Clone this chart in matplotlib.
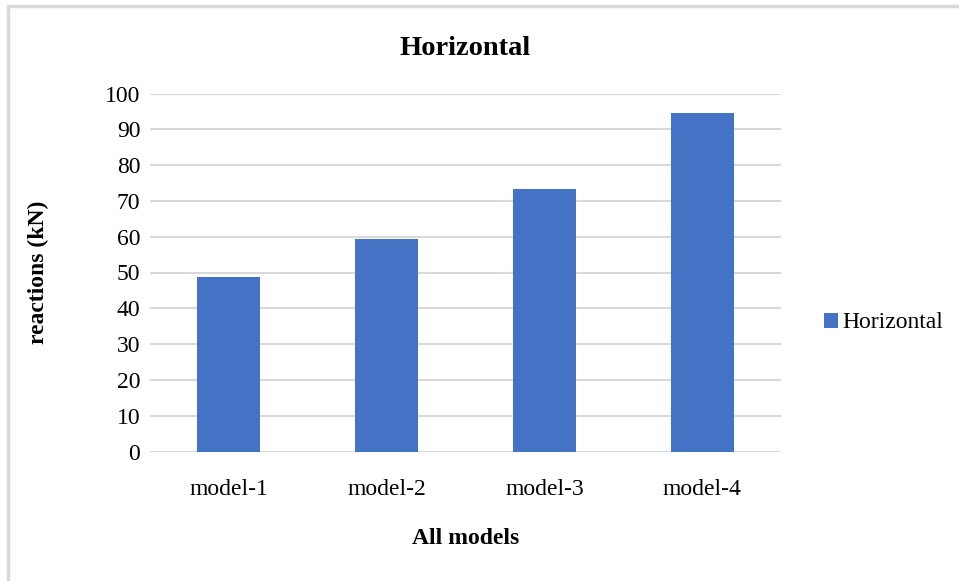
import matplotlib
matplotlib.use('Agg')
import matplotlib.pyplot as plt
from matplotlib.patches import Rectangle

# reaction values per model
models = ["model-1", "model-2", "model-3", "model-4"]
horizontal = [48.8, 59.4, 73.3, 94.5]
y_ticks = [0, 10, 20, 30, 40, 50, 60, 70, 80, 90, 100]

BAR_COLOR = "#4472C4"
GRID_COLOR = "#D9D9D9"

plt.rcParams['font.family'] = ['Liberation Serif', 'DejaVu Serif']

W, H = 959, 581
fig = plt.figure(figsize=(W / 100, H / 100), dpi=100)
fig.patch.set_facecolor("white")

# chart area border (only left/top sides fall inside the image)
fig.patches.append(Rectangle((8 / W, -0.05), 1.2, 1 - 6 / H + 0.05,
                             transform=fig.transFigure, fill=False,
                             edgecolor=GRID_COLOR, linewidth=2.5))

ax = fig.add_axes([150 / W, 1 - 451.5 / H, (781 - 150) / W, (451.5 - 93.5) / H])
x = list(range(len(models)))
bars = ax.bar(x, horizontal, width=0.4, color=BAR_COLOR, label="Horizontal",
              zorder=3)

ax.set_xlim(-0.5, len(models) - 0.5)
ax.set_ylim(0, 100)
ax.set_yticks(y_ticks)
ax.set_xticks(x)
ax.set_xticklabels(models)
ax.tick_params(axis='both', length=0, labelsize=17, colors="black")
ax.tick_params(axis='x', pad=20)
ax.tick_params(axis='y', pad=7)
ax.grid(axis='y', color=GRID_COLOR, linewidth=1.5, zorder=0)
for s in ax.spines.values():
    s.set_visible(False)

ax.set_title("Horizontal", fontsize=20.5, fontweight='bold', pad=28)
ax.set_xlabel("All models", fontsize=17, fontweight='bold', labelpad=20)
ax.set_ylabel("reactions (kN)", fontsize=17, fontweight='bold', labelpad=40)

fig.legend(handles=[bars], labels=["Horizontal"], loc='center left',
           bbox_to_anchor=(803 / W, 1 - 323 / H), frameon=False,
           fontsize=17, handlelength=0.6, handleheight=0.6, handletextpad=0.15)

fig.savefig("out.png", dpi=100)
